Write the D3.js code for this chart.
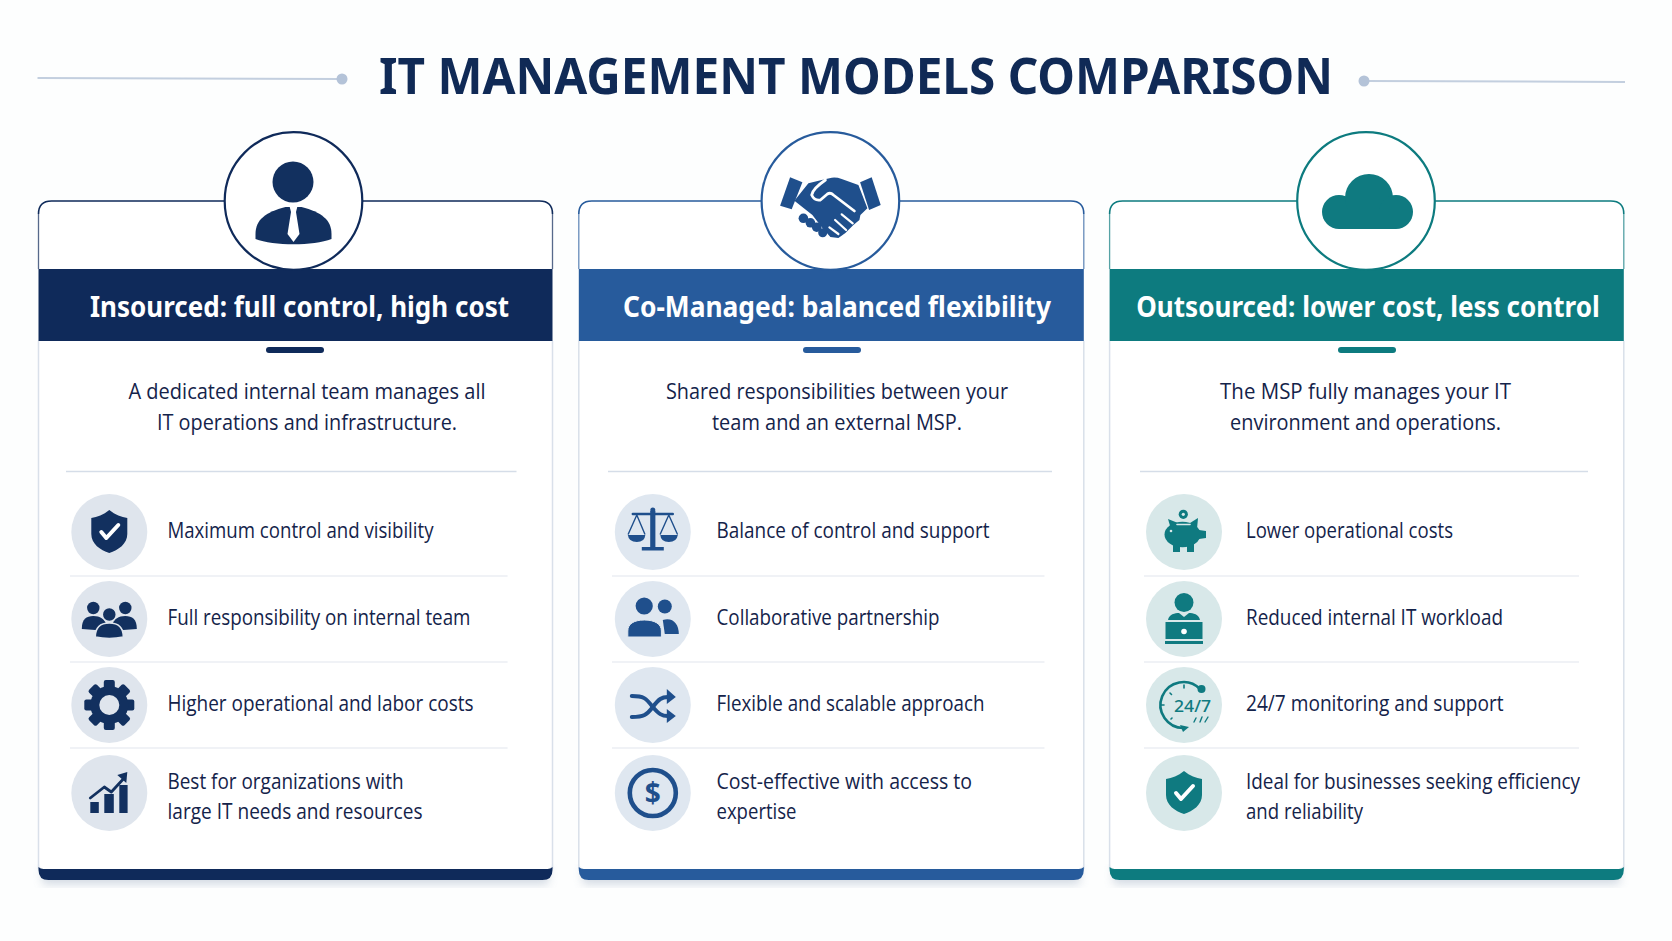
<!DOCTYPE html>
<html>
<head>
<meta charset="utf-8">
<script src="https://d3js.org/d3.v7.min.js"></script>
<style>
	html, body { margin: 0; padding: 0; background: #fdfefe; }
	svg { display: block; }
	text { font-family: "Noto Sans", sans-serif; }
	text.body { font-family: "Open Sans", sans-serif; font-weight: 400; }
</style>
</head>
<body>
<script>
// content
var chartTitle = "IT MANAGEMENT MODELS COMPARISON";
var cardTitles = ["Insourced: full control, high cost", "Co-Managed: balanced flexibility", "Outsourced: lower cost, less control"];
var cardDescriptions = [
	["A dedicated internal team manages all", "IT operations and infrastructure."],
	["Shared responsibilities between your", "team and an external MSP."],
	["The MSP fully manages your IT", "environment and operations."]
];
var cardItems = [
	[["Maximum control and visibility"], ["Full responsibility on internal team"], ["Higher operational and labor costs"], ["Best for organizations with", "large IT needs and resources"]],
	[["Balance of control and support"], ["Collaborative partnership"], ["Flexible and scalable approach"], ["Cost-effective with access to", "expertise"]],
	[["Lower operational costs"], ["Reduced internal IT workload"], ["24/7 monitoring and support"], ["Ideal for businesses seeking efficiency", "and reliability"]]
];
var cardIcons = ["person", "handshake", "cloud"];
var itemIcons = [
	["shield", "team", "gear", "growth"],
	["scales", "pair", "shuffle", "dollar"],
	["piggy", "laptop", "clock", "shield"]
];

// styling and measured layout, separate from the content
var mainColors = ["#0f2a5a", "#275b9c", "#0d7b7f"];
var iconColors = ["#12305f", "#1f4f8c", "#0f7a80"];
var paleColors = ["#dfe5ed", "#dfe7f0", "#d8e8e9"];
var textColor = "#14234a";
var cardLeft = [38.5, 578.8, 1109.6];
var cardRight = [552.5, 1083.8, 1623.8];
var circleX = [293.5, 830.4, 1366];
var dashX = [295, 832, 1367];
var titleMid = [299.5, 837, 1368];
var descMid = [307, 837, 1365.6];
var dividerX = [[66, 516.5], [608, 1052], [1140, 1588]];
var sepX = [[70, 507.6], [612, 1044.5], [1144, 1579]];
var iconX = [109.3, 652.8, 1184];
var itemX = [167.5, 716.5, 1246];
var titleWidths = [419, 428, 463.5];
var descWidths = [[357, 300], [342, 250], [291, 271]];
var itemWidths = [
	[[266], [303], [306], [236, 255]],
	[[273], [223], [268], [255.5, 80]],
	[[207], [257], [257.6], [334, 117]]
];
var rowCenters = [532, 619, 705, 793];
var rowSeparators = [576, 662, 748];

var width = 1672, height = 941;
var svg = d3.select("body").append("svg").attr("width", width).attr("height", height);

var rowY = d3.scaleOrdinal().domain([0, 1, 2, 3]).range(rowCenters);

var defs = svg.append("defs");
var blur = defs.append("filter").attr("id", "soft").attr("x", "-10%").attr("y", "-10%").attr("width", "120%").attr("height", "130%");
blur.append("feGaussianBlur").attr("stdDeviation", 5);

// title and its two rules
svg.append("text").attr("x", 856).attr("y", 94).attr("text-anchor", "middle")
	.attr("font-size", 50).attr("font-weight", 700).attr("fill", "#102a56")
	.attr("textLength", 954).attr("lengthAdjust", "spacingAndGlyphs").text(chartTitle);
svg.append("line").attr("x1", 37.5).attr("x2", 343).attr("y1", 78).attr("y2", 79).attr("stroke", "#c3cfdf").attr("stroke-width", 2);
svg.append("circle").attr("cx", 342).attr("cy", 79).attr("r", 5.5).attr("fill", "#b4c3d8");
svg.append("line").attr("x1", 1364).attr("x2", 1625).attr("y1", 81).attr("y2", 82).attr("stroke", "#c3cfdf").attr("stroke-width", 2);
svg.append("circle").attr("cx", 1364).attr("cy", 81).attr("r", 5.5).attr("fill", "#b4c3d8");

var cardTop = 201, headTop = 269, headBottom = 341, barTop = 869, barBottom = 880;

function topEdge(l, r) {
	return "M" + l + "," + (cardTop + 13) + "Q" + l + "," + cardTop + " " + (l + 13) + "," + cardTop +
		"H" + (r - 13) + "Q" + r + "," + cardTop + " " + r + "," + (cardTop + 13);
}

function bottomBar(l, r) {
	return "M" + l + "," + (barTop - 2) + "Q" + (l + 2) + "," + barTop + " " + (l + 5) + "," + barTop + "H" + (r - 5) + "Q" + (r - 2) + "," + barTop + " " + r + "," + (barTop - 2) +
		"V" + (barBottom - 10) + "Q" + r + "," + barBottom + " " + (r - 10) + "," + barBottom +
		"H" + (l + 10) + "Q" + l + "," + barBottom + " " + l + "," + (barBottom - 10) + "Z";
}

function fitted(sel, w) {
	return sel.attr("textLength", w).attr("lengthAdjust", "spacingAndGlyphs");
}

cardTitles.forEach(function(title, i) {
	var l = cardLeft[i], r = cardRight[i], c = mainColors[i];
	var g = svg.append("g").attr("class", "card");

	// soft shadow under the card
	g.append("rect").attr("x", l + 4).attr("y", barBottom - 14).attr("width", r - l - 8).attr("height", 18)
		.attr("fill", "#8fa0b8").attr("opacity", 0.4).attr("filter", "url(#soft)");
	g.append("rect").attr("x", l).attr("y", cardTop).attr("width", r - l).attr("height", barTop - cardTop + 4)
		.attr("rx", 13).attr("fill", "#ffffff");
	g.append("path").attr("d", "M" + l + "," + headBottom + "V" + barTop + "M" + r + "," + headBottom + "V" + barTop)
		.attr("fill", "none").attr("stroke", "#d9e0ea").attr("stroke-width", 1.5);
	g.append("path").attr("d", "M" + l + "," + (cardTop + 13) + "V" + headTop + "M" + r + "," + (cardTop + 13) + "V" + headTop)
		.attr("fill", "none").attr("stroke", c).attr("stroke-width", 1.3).attr("opacity", 0.7);
	g.append("path").attr("d", topEdge(l, r)).attr("fill", "none").attr("stroke", c).attr("stroke-width", 1.6);
	g.append("rect").attr("x", l).attr("y", headTop).attr("width", r - l).attr("height", headBottom - headTop).attr("fill", c);
	g.append("path").attr("d", bottomBar(l, r)).attr("fill", c);

	// badge
	g.append("circle").attr("cx", circleX[i]).attr("cy", cardTop).attr("r", 68.8).attr("fill", "#ffffff")
		.attr("stroke", c).attr("stroke-width", 2.2);
	drawIcon(g.append("g").attr("transform", "translate(" + circleX[i] + "," + cardTop + ")"), cardIcons[i], iconColors[i], "#ffffff");

	fitted(g.append("text").attr("x", titleMid[i]).attr("y", 316.5).attr("text-anchor", "middle")
		.attr("font-size", 28).attr("font-weight", 700).attr("fill", "#ffffff"), titleWidths[i]).text(title);

	g.append("rect").attr("x", dashX[i] - 29).attr("y", 347).attr("width", 58).attr("height", 6).attr("rx", 3).attr("fill", c);

	cardDescriptions[i].forEach(function(line, k) {
		fitted(g.append("text").attr("class", "body").attr("x", descMid[i]).attr("y", 398.5 + k * 31).attr("text-anchor", "middle")
			.attr("font-size", 22).attr("fill", textColor), descWidths[i][k]).text(line);
	});

	g.append("line").attr("x1", dividerX[i][0]).attr("x2", dividerX[i][1]).attr("y1", 471.5).attr("y2", 471.5)
		.attr("stroke", "#d5dde8").attr("stroke-width", 1.6);

	// the four rows
	var rows = g.selectAll("g.row").data(cardItems[i]).enter().append("g").attr("class", "row");
	rows.filter(function(d, k) { return k > 0; }).append("line")
		.attr("x1", sepX[i][0]).attr("x2", sepX[i][1])
		.attr("y1", function(d, k) { return rowSeparators[k]; })
		.attr("y2", function(d, k) { return rowSeparators[k]; })
		.attr("stroke", "#e1e6ee").attr("stroke-width", 1.2);
	rows.append("circle").attr("cx", iconX[i]).attr("cy", function(d, k) { return rowY(k); }).attr("r", 38).attr("fill", paleColors[i]);
	rows.each(function(lines, k) {
		var row = d3.select(this);
		drawIcon(row.append("g").attr("transform", "translate(" + iconX[i] + "," + rowY(k) + ")"), itemIcons[i][k], iconColors[i], paleColors[i]);
		lines.forEach(function(line, n) {
			var y = lines.length == 1 ? rowY(k) + 5.5 : rowY(k) - 4 + n * 30;
			fitted(row.append("text").attr("class", "body").attr("x", itemX[i]).attr("y", y)
				.attr("font-size", 21).attr("fill", textColor), itemWidths[i][k][n]).text(line);
		});
	});
});

// icons are plain glyph drawings around (0,0)
function drawIcon(g, name, c, bg) {
	function p(d) { return g.append("path").attr("d", d).attr("fill", c); }
	function o(d, col, w) {
		return g.append("path").attr("d", d).attr("fill", "none").attr("stroke", col).attr("stroke-width", w)
			.attr("stroke-linecap", "round").attr("stroke-linejoin", "round");
	}
	function dot(x, y, r, col) { return g.append("circle").attr("cx", x).attr("cy", y).attr("r", r).attr("fill", col || c); }

	if (name == "person") {
		dot(-0.5, -19, 20.5);
		p("M-38,33C-38,19 -28,11 -8,6L8,6C28,11 38,19 38,33L38,38C20,45 -20,45 -38,38Z");
		p("M-4,5L4,5L2.5,11L6,33L0,41L-6,33L-2.5,11Z").attr("fill", bg);
	}
	if (name == "handshake") {
		p("M-40.3,-23.7L-28,-18.7L-38.7,8.3L-50.3,4.7Z");
		p("M29.7,-18.7L41.3,-23.7L50.3,4L38.7,9Z");
		p("M-22,-17.7L-8.7,-21L1.3,-23.3Q6,-24 11.3,-22L28,-16L37,7.3L30,14L29,19L23,24L15,32L8,37L0,36L-8,27L-18,14L-36,-0.3Z");
		dot(-27, 17.3, 4.8); dot(-20, 21.8, 4.8); dot(-13.7, 26.2, 4.8); dot(-7.7, 31.7, 4.5);
		o("M-5,-21Q-18,-12 -18.7,-6Q-16,0 -10,-1L-3,-7Q0,-9 3,-6L24,10", bg, 2.8);
		o("M11.3,13.3L22.3,22.3M4.7,19L15.7,29M-1,26.3L8,33", bg, 2.2);
	}
	if (name == "cloud") {
		dot(-27, 11, 17); dot(3, -3, 24); dot(30, 11, 17);
		p("M-27,8H30V28H-27Z");
	}
	if (name == "shield") {
		p("M0,-22C6,-17 12,-15 18,-14L18,2C18,12 9,18 0,21C-9,18 -18,12 -18,2L-18,-14C-12,-15 -6,-17 0,-22Z");
		o("M-8,0L-3,6L9,-7", "#ffffff", 4);
	}
	if (name == "team") {
		dot(-16, -11, 6.2); dot(16, -11, 6.2);
		p("M-27.5,10C-27.5,0 -23,-3 -16,-3C-9,-3 -5,0 -3,5L-14,11Z");
		p("M27.5,10C27.5,0 23,-3 16,-3C9,-3 5,0 3,5L14,11Z");
		dot(0, -4.5, 7).attr("stroke", bg).attr("stroke-width", 1.5);
		p("M-14,18C-14,8 -8,4 0,4C8,4 14,8 14,18Q0,21 -14,18Z").attr("stroke", bg).attr("stroke-width", 1.5);
	}
	if (name == "gear") {
		d3.range(8).forEach(function(k) {
			g.append("rect").attr("x", -5.5).attr("y", -25).attr("width", 11).attr("height", 12).attr("rx", 2)
				.attr("fill", c).attr("transform", "rotate(" + k * 45 + ")");
		});
		dot(0, 0, 19);
		dot(0, 0, 10, bg);
	}
	if (name == "growth") {
		p("M-19,9H-10.5V20H-19Z");
		p("M-5,1H4.5V20H-5Z");
		p("M10,-8H18.3V20H10Z");
		o("M-19,5L-5,-6L2,-1L14,-14", c, 2.8);
		p("M8,-18L18,-21L17,-10Z");
	}
	if (name == "scales") {
		dot(0, -22, 2.5);
		p("M-2.6,-21H2.6V15H-2.6Z");
		o("M-20,-18H20", c, 2.4);
		p("M-11,15H11V18.5H-11Z");
		o("M-16,-17L-24.5,2M-16,-17L-8,2M16,-17L7.5,2M16,-17L24.5,2", c, 1.4);
		p("M-25,3H-7.5Q-8,10 -16,10Q-24,10 -25,3Z");
		p("M7.5,3H25Q24,10 16,10Q8,10 7.5,3Z");
	}
	if (name == "pair") {
		dot(-8.6, -13, 8.6);
		dot(12, -12.5, 7);
		p("M10,1C20,-2 26,5 26,15L12,15Z");
		p("M-25,18V12C-25,5 -19,1 -8.5,1C2,1 8.6,5 8.6,12V18Z").attr("stroke", bg).attr("stroke-width", 1);
	}
	if (name == "shuffle") {
		o("M-21,-9C-9,-9 -7,-7 0,2C6,9 9,11 15,11", c, 4);
		o("M-21,12C-9,12 -6,10 0,2C6,-6 9,-8 15,-8", c, 4);
		p("M14,-16L23,-8L14,-1Z");
		p("M14,4L23,11L14,18Z");
	}
	if (name == "dollar") {
		g.append("circle").attr("r", 23).attr("fill", "none").attr("stroke", c).attr("stroke-width", 4.6);
		g.append("text").attr("y", 10).attr("text-anchor", "middle").attr("font-size", 28).attr("font-weight", 700).attr("fill", c).text("$");
	}
	if (name == "piggy") {
		dot(-0.7, -17.7, 4.6);
		dot(-0.7, -17.7, 1.6, bg);
		g.append("ellipse").attr("cx", -1.5).attr("cy", 2.5).attr("rx", 18).attr("ry", 12.8).attr("fill", c);
		p("M-16,-13L-6,-9L-13,-3Z");
		p("M14,-14L6,-9L13,-3Z");
		p("M15,-2L22,-1V6L15,7Z");
		p("M-11,10H-4V20H-11Z");
		p("M3,10H10V20H3Z");
		dot(-13, -1, 1.3, bg);
		o("M-7,-7.5H6", bg, 1.6);
	}
	if (name == "laptop") {
		dot(0, -16.5, 9.5);
		p("M-16,1C-15,-5 -9,-6 -5,-6L0,-2L5,-6C9,-6 15,-5 16,1Z");
		p("M-18.5,3H18.5V20H-18.5Z");
		p("M-19,22H19V25H-19Z");
		dot(0, 12.5, 2.8, "#ffffff");
	}
	if (name == "clock") {
		o("M16,-16A23,23 0 1 0 0,23", c, 2.6);
		dot(17.5, -16, 4);
		p("M-4,20L5,22L-1,27Z");
		o("M0,-20V-17M-14,-12L-12.5,-10.5M-23,0H-20M-13,14L-12,13", c, 1.6);
		g.append("text").attr("x", -10).attr("y", 6.7).attr("font-size", 17).attr("font-weight", 500).attr("fill", c)
			.attr("textLength", 37).attr("lengthAdjust", "spacingAndGlyphs").text("24/7");
		o("M12,13L10,17M18,12L16,17M24,12L21,17", c, 1.4);
	}
}
</script>
</body>
</html>
